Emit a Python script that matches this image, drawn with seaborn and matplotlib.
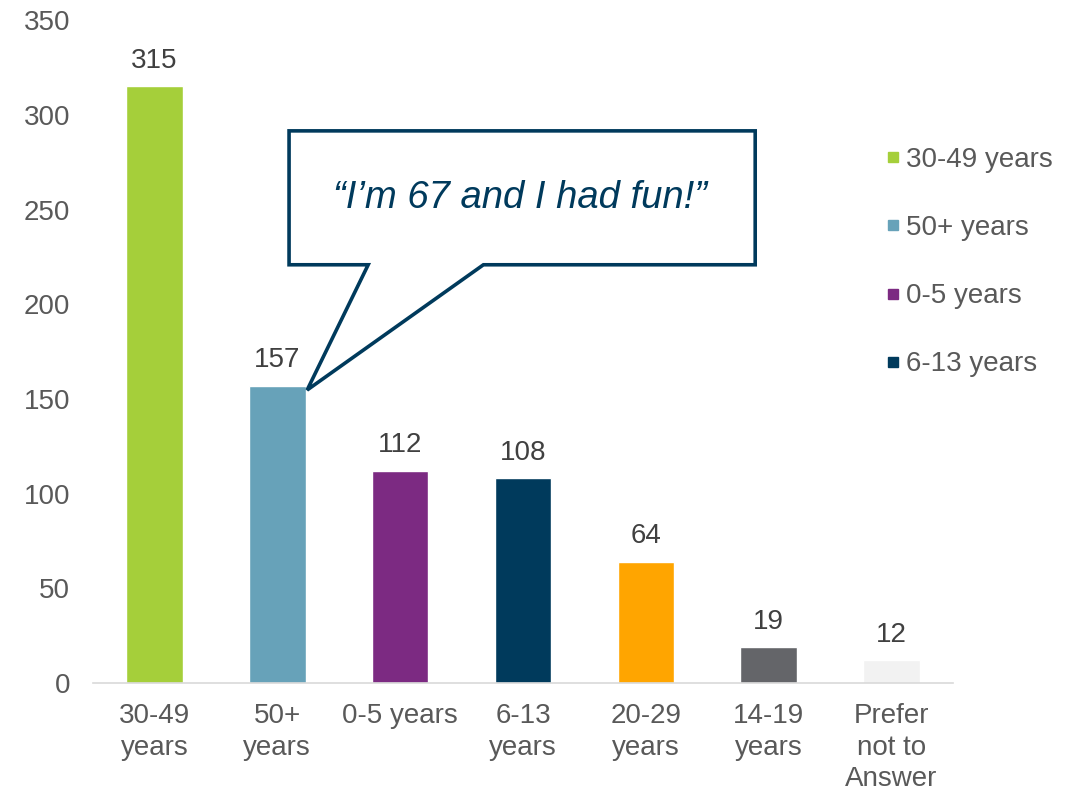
import matplotlib
matplotlib.use("Agg")
import matplotlib.pyplot as plt
import seaborn as sns
import pandas as pd
from matplotlib.patches import Polygon
from matplotlib.lines import Line2D

categories = ["30-49 years", "50+ years", "0-5 years", "6-13 years",
              "20-29 years", "14-19 years", "Prefer not to Answer"]
tick_labels = ["30-49\nyears", "50+\nyears", "0-5 years", "6-13\nyears",
               "20-29\nyears", "14-19\nyears", "Prefer\nnot to\nAnswer"]
values = [315, 157, 112, 108, 64, 19, 12]
colors = ["#A5CF3A", "#67A2B9", "#7C2A82", "#003A5C", "#FFA500", "#646569", "#F2F2F2"]
legend_items = ["30-49 years", "50+ years", "0-5 years", "6-13 years"]
quote = "\u201cI\u2019m 67 and I had fun!\u201d"

sns.set_theme(style="white")
plt.rcParams['font.family'] = ['Liberation Sans', 'DejaVu Sans']

df = pd.DataFrame({"cat": categories, "val": values})

FS = 20

fig = plt.figure(figsize=(10.81, 7.91), dpi=100)
ax = fig.add_axes([0.086, 0.1365, 0.7956, 0.838])
sns.barplot(data=df, x="cat", y="val", hue="cat", palette=colors,
            order=categories, hue_order=categories, dodge=False,
            width=0.46, legend=False, ax=ax, saturation=1)

ax.set_ylim(0, 350)
ax.set_xlim(-0.5, len(categories) - 0.5)
ax.set_yticks(range(0, 351, 50))
ax.tick_params(axis='y', length=0, labelsize=FS, labelcolor="#595959", pad=16.5)
ax.set_xticks(range(len(categories)))
ax.set_xticklabels(tick_labels, fontsize=FS, color="#595959", linespacing=1.27)
ax.tick_params(axis='x', which='major', length=0, pad=14.5)
ax.set_xticks([i - 0.5 for i in range(len(categories) + 1)], minor=True)
ax.tick_params(axis='x', which='minor', length=7, color="#D9D9D9", width=1.2, direction='out')
ax.set_xlabel("")
ax.set_ylabel("")
for s in ["top", "right", "left"]:
    ax.spines[s].set_visible(False)
ax.spines["bottom"].set_color("#D9D9D9")
ax.spines["bottom"].set_linewidth(1.2)

for c in ax.containers:
    ax.bar_label(c, fmt="%d", padding=9, fontsize=FS, color="#404040")

# callout
pts = [(0.228, 0.833), (0.770, 0.833), (0.770, 0.631), (0.454, 0.631),
       (0.249, 0.442), (0.320, 0.631), (0.228, 0.631)]
poly = Polygon(pts, closed=True, transform=ax.transAxes, facecolor="white",
               edgecolor="#003A5C", linewidth=2.6, joinstyle='miter', zorder=5, clip_on=False)
ax.add_patch(poly)
ax.text(0.497, 0.731, quote, transform=ax.transAxes, ha="center", va="center",
        fontsize=27.5, style="italic", color="#003A5C", zorder=6)

handles = [Line2D([0], [0], marker="s", linestyle="", markersize=7,
                  markerfacecolor=colors[categories.index(l)],
                  markeredgecolor=colors[categories.index(l)]) for l in legend_items]
leg = fig.legend(handles, legend_items, loc="upper left", bbox_to_anchor=(0.793, 0.846),
                 frameon=False, fontsize=FS, labelspacing=1.52, handletextpad=0.05,
                 handlelength=0.8)
for t in leg.get_texts():
    t.set_color("#595959")

fig.savefig("out.png", dpi=100)
